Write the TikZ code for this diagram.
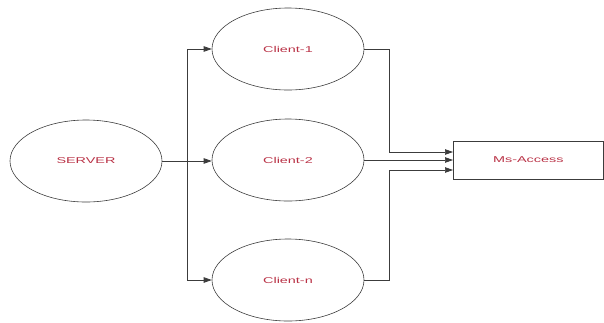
\documentclass[tikz,border=0pt]{standalone}
\usepackage{fontspec}
\setmainfont{Liberation Sans}
\usepackage{graphicx}
\usetikzlibrary{arrows.meta,shapes.geometric}
\definecolor{txtred}{RGB}{185,50,70}
\definecolor{linegray}{RGB}{60,60,60}
\tikzset{
  ell/.style={ellipse, draw=linegray, line width=0.6bp, minimum width=152bp, minimum height=82bp, inner sep=0pt, font=\fontsize{8.5}{10}\selectfont, text=txtred},
  rectbox/.style={rectangle, draw=linegray, line width=0.6bp, minimum width=150bp, minimum height=38bp, inner sep=0pt, font=\fontsize{8.5}{10}\selectfont, text=txtred},
  conn/.style={draw=linegray, line width=0.7bp},
  arr/.style={conn, -{Triangle[length=8bp,width=5.5bp]}}
}
\newcommand{\stretchtxt}[1]{\scalebox{1.7}[1]{#1}}
\begin{document}
\begin{tikzpicture}[x=1bp,y=-1bp]
\useasboundingbox (0,0) rectangle (604,322);
\node[ell] (srv) at (86,161) {\stretchtxt{SERVER}};
\node[ell] (c1) at (288,49) {\stretchtxt{Client-1}};
\node[ell] (c2) at (288,160) {\stretchtxt{Client-2}};
\node[ell] (cn) at (288,280) {\stretchtxt{Client-n}};
\node[rectbox, anchor=west] (ms) at (453,160) {\stretchtxt{Ms-Access}};
\coordinate (j) at (187,161);
\coordinate (r) at (389,161);
\draw[conn] (srv.east) -- (j);
\draw[arr] (j) |- (c1.west);
\draw[arr] (j) -- (c2.west |- j);
\draw[arr] (j) |- (cn.west);
\draw[arr] (c1.east) -| (r |- 0,152) -- (ms.west |- 0,152);
\draw[arr] (c2.east) -- (ms.west |- c2.east);
\draw[arr] (cn.east) -| (r |- 0,170) -- (ms.west |- 0,170);
\end{tikzpicture}
\end{document}
